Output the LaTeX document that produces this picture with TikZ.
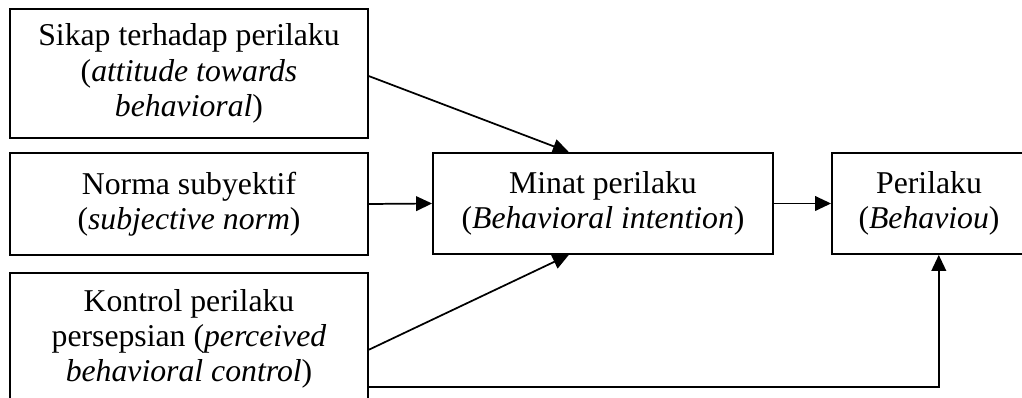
\documentclass[tikz,border=0pt]{standalone}
\usepackage{fontspec}
\setmainfont{Liberation Serif}
\usetikzlibrary{arrows.meta,calc}
\begin{document}
\begin{tikzpicture}[x=0.75pt,y=-0.75pt,
  box/.style={draw,line width=1.4pt,inner sep=0pt,align=center,
    font=\fontsize{23.8}{26.5}\selectfont},
  arr/.style={line width=1.3pt,-{Triangle[length=12pt,width=11pt]}}]
\clip (0,0) rectangle (1022,398);
\node[box,minimum width=358*0.75pt,minimum height=129*0.75pt] (b1) at (189,73.5)
  {Sikap terhadap perilaku\\(\textit{attitude towards}\\\textit{behavioral})};
\node[box,minimum width=358*0.75pt,minimum height=102*0.75pt] (b2) at (189,204)
  {Norma subyektif\\(\textit{subjective norm})};
\node[box,minimum width=358*0.75pt,minimum height=132*0.75pt] (b3) at (189,339)
  {Kontrol perilaku\\persepsian (\textit{perceived}\\\textit{behavioral control})};
\node[box,minimum width=340*0.75pt,minimum height=101*0.75pt] (m) at (603,203.5)
  {Minat perilaku\\(\textit{Behavioral intention})};
\node[box,minimum width=194*0.75pt,minimum height=101*0.75pt] (p) at (929,203.5)
  {Perilaku\\(\textit{Behaviou})};
\coordinate (s1) at ($(b1.north east)!0.52!(b1.south east)$);
\coordinate (t1) at ($(m.north west)!0.4!(m.north east)$);
\coordinate (s3) at ($(b3.north east)!0.58!(b3.south east)$);
\coordinate (t3) at ($(m.south west)!0.4!(m.south east)$);
\coordinate (s5) at ($(b3.north east)!0.856!(b3.south east)$);
\coordinate (t5) at ($(p.south west)!0.55!(p.south east)$);
\draw[arr] (s1) -- (t1);
\draw[arr] (b2.east) -- (m.west);
\draw[arr] (s3) -- (t3);
\draw[arr] (m.east) -- (p.west);
\draw[arr] (s5) -| (t5);
\end{tikzpicture}
\end{document}
